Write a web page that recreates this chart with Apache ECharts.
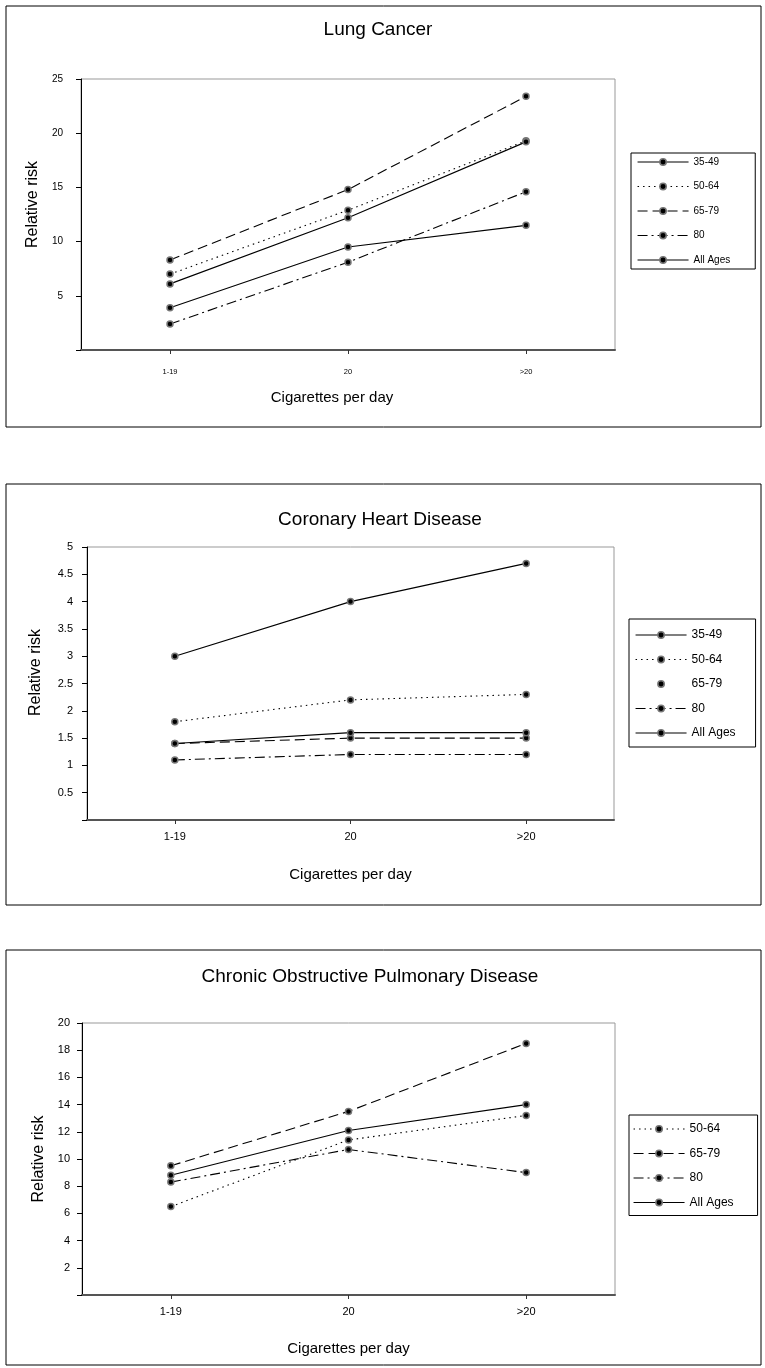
<!DOCTYPE html>
<html>
<head>
<meta charset="utf-8">
<script src="https://cdn.jsdelivr.net/npm/echarts@6/dist/echarts.min.js"></script>
<style>
  html, body { margin: 0; padding: 0; background: #fff; }
  #chart { width: 765px; height: 1368px; }
</style>
</head>
<body>
<div id="chart"></div>
<script>
// ---------- data ----------
const categories = ['1-19', '20', '>20'];

const panelTitles = ['Lung Cancer', 'Coronary Heart Disease', 'Chronic Obstructive Pulmonary Disease'];

// Lung Cancer
const lung_35_49 = [3.9, 9.5, 11.5];
const lung_50_64 = [7.0, 12.9, 19.3];
const lung_65_79 = [8.3, 14.8, 23.4];
const lung_80    = [2.4, 8.1, 14.6];
const lung_all   = [6.1, 12.2, 19.2];

// Coronary Heart Disease
const chd_35_49 = [3.0, 4.0, 4.7];
const chd_50_64 = [1.8, 2.2, 2.3];
const chd_65_79 = [1.4, 1.5, 1.5];
const chd_80    = [1.1, 1.2, 1.2];
const chd_all   = [1.4, 1.6, 1.6];

// Chronic Obstructive Pulmonary Disease
const copd_50_64 = [6.5, 11.4, 13.2];
const copd_65_79 = [9.5, 13.5, 18.5];
const copd_80    = [8.3, 10.7, 9.0];
const copd_all   = [8.8, 12.1, 14.0];

// axis scales
const lungAxis = { min: 0, max: 25, interval: 5 };
const chdAxis  = { min: 0, max: 5, interval: 0.5 };
const copdAxis = { min: 0, max: 20, interval: 2 };

// ---------- styles ----------
const FONT = "'Liberation Sans', Arial, sans-serif";
const DASH = {
  '35-49': 'solid',
  '50-64': [1.5, 4],
  '65-79': [10, 5],
  '80': [10, 4, 2, 4],
  'All Ages': 'solid'
};

function mkSeries(name, data, idx) {
  return {
    type: 'line', name: name, data: data,
    xAxisIndex: idx, yAxisIndex: idx,
    symbol: 'circle', symbolSize: 6, showSymbol: true,
    lineStyle: { color: '#000', width: 1.1, type: DASH[name] },
    itemStyle: { color: '#000', borderColor: '#777', borderWidth: 1.5 },
    emphasis: { disabled: true },
    animation: false
  };
}

const grids = [
  { left: 81, top: 79, width: 534, height: 271 },
  { left: 87, top: 547, width: 527, height: 273 },
  { left: 82, top: 1023, width: 533, height: 272 }
];

function mkX(idx, fontSize, margin, nameGap, namePad) {
  return {
    gridIndex: idx, type: 'category', data: categories, boundaryGap: true,
    axisLine: { show: true, lineStyle: { color: '#555', width: 2 } },
    axisTick: { show: true, alignWithLabel: true, length: 4, lineStyle: { color: '#333' } },
    axisLabel: { fontSize: fontSize, color: '#000', margin: margin, fontFamily: FONT },
    splitLine: { show: false },
    name: 'Cigarettes per day', nameLocation: 'middle', nameGap: nameGap,
    nameTextStyle: { fontSize: 15, color: '#000', fontFamily: FONT, padding: namePad }
  };
}

function mkY(idx, scale, fontSize, margin, nameGap, namePad) {
  return {
    gridIndex: idx, type: 'value', min: scale.min, max: scale.max, interval: scale.interval,
    axisLine: { show: true, lineStyle: { color: '#000', width: 1 } },
    axisTick: { show: true, length: 5, lineStyle: { color: '#000' } },
    axisLabel: { fontSize: fontSize, color: '#000', margin: margin, fontFamily: FONT,
      formatter: function (v) { return v === 0 ? '' : String(v); } },
    splitLine: { show: false },
    name: 'Relative risk', nameLocation: 'middle', nameGap: nameGap,
    nameTextStyle: { fontSize: 16, color: '#000', fontFamily: FONT, padding: namePad }
  };
}

function mkLegend(names, left, top, fontSize, itemGap, padding, overrides) {
  return {
    orient: 'vertical', left: left, top: top,
    data: names.map(function (n) { return overrides && overrides[n] ? Object.assign({ name: n }, overrides[n]) : n; }),
    selectedMode: false,
    itemWidth: 51, itemHeight: 8, itemGap: itemGap,
    padding: padding,
    borderColor: '#000', borderWidth: 1, backgroundColor: '#fff',
    textStyle: { fontSize: fontSize, color: '#000', fontFamily: FONT },
    lineStyle: { width: 1.1 },
    itemStyle: { borderWidth: 1.5 }
  };
}

function mkTitle(text, x, y) {
  return {
    text: text, left: x, top: y, textAlign: 'center', textVerticalAlign: 'middle', padding: 0,
    textStyle: { fontSize: 19, fontWeight: 'normal', color: '#000', fontFamily: FONT }
  };
}

const option = {
  backgroundColor: '#fff',
  animation: false,
  textStyle: { fontFamily: FONT },
  title: [
    mkTitle(panelTitles[0], 378, 30),
    mkTitle(panelTitles[1], 380, 520),
    mkTitle(panelTitles[2], 370, 977)
  ],
  grid: grids.map(function (g) {
    return Object.assign({ show: true, borderColor: '#999', borderWidth: 1, containLabel: false }, g);
  }),
  xAxis: [
    mkX(0, 7.5, 18, 40, [0, 32, 0, 0]),
    mkX(1, 11, 11, 47, [0, 0, 0, 0]),
    mkX(2, 11, 11, 46, [0, 0, 0, 0])
  ],
  yAxis: [
    mkY(0, lungAxis, 10, 18, 33, [0, 0, 0, 20]),
    mkY(1, chdAxis, 11, 14, 43, [0, 0, 0, 22]),
    mkY(2, copdAxis, 11, 12, 32, [0, 0, 0, 0])
  ],
  legend: [
    mkLegend(['35-49', '50-64', '65-79', '80', 'All Ages'], 631, 153, 10, 14.5, [4, 25, 4, 6]),
    mkLegend(['35-49', '50-64', '65-79', '80', 'All Ages'], 629, 619, 12, 12.5, [10, 20, 8, 6],
      { '65-79': { lineStyle: { opacity: 0 } } }),
    mkLegend(['50-64', '65-79', '80', 'All Ages'], 629, 1115, 12, 12.5, [8, 24, 7, 4])
  ],
  graphic: [
    { type: 'rect', shape: { x: 6, y: 6, width: 755, height: 421 }, style: { fill: null, stroke: '#000', lineWidth: 1 }, silent: true },
    { type: 'rect', shape: { x: 6, y: 484, width: 755, height: 421 }, style: { fill: null, stroke: '#000', lineWidth: 1 }, silent: true },
    { type: 'rect', shape: { x: 6, y: 950, width: 755, height: 415 }, style: { fill: null, stroke: '#000', lineWidth: 1 }, silent: true }
  ],
  series: [
    mkSeries('35-49', lung_35_49, 0),
    mkSeries('50-64', lung_50_64, 0),
    mkSeries('65-79', lung_65_79, 0),
    mkSeries('80', lung_80, 0),
    mkSeries('All Ages', lung_all, 0),
    mkSeries('35-49', chd_35_49, 1),
    mkSeries('50-64', chd_50_64, 1),
    mkSeries('65-79', chd_65_79, 1),
    mkSeries('80', chd_80, 1),
    mkSeries('All Ages', chd_all, 1),
    mkSeries('50-64', copd_50_64, 2),
    mkSeries('65-79', copd_65_79, 2),
    mkSeries('80', copd_80, 2),
    mkSeries('All Ages', copd_all, 2)
  ]
};

const chart = echarts.init(document.getElementById('chart'), null, { renderer: 'canvas', width: 765, height: 1368 });
chart.setOption(option);
</script>
</body>
</html>
